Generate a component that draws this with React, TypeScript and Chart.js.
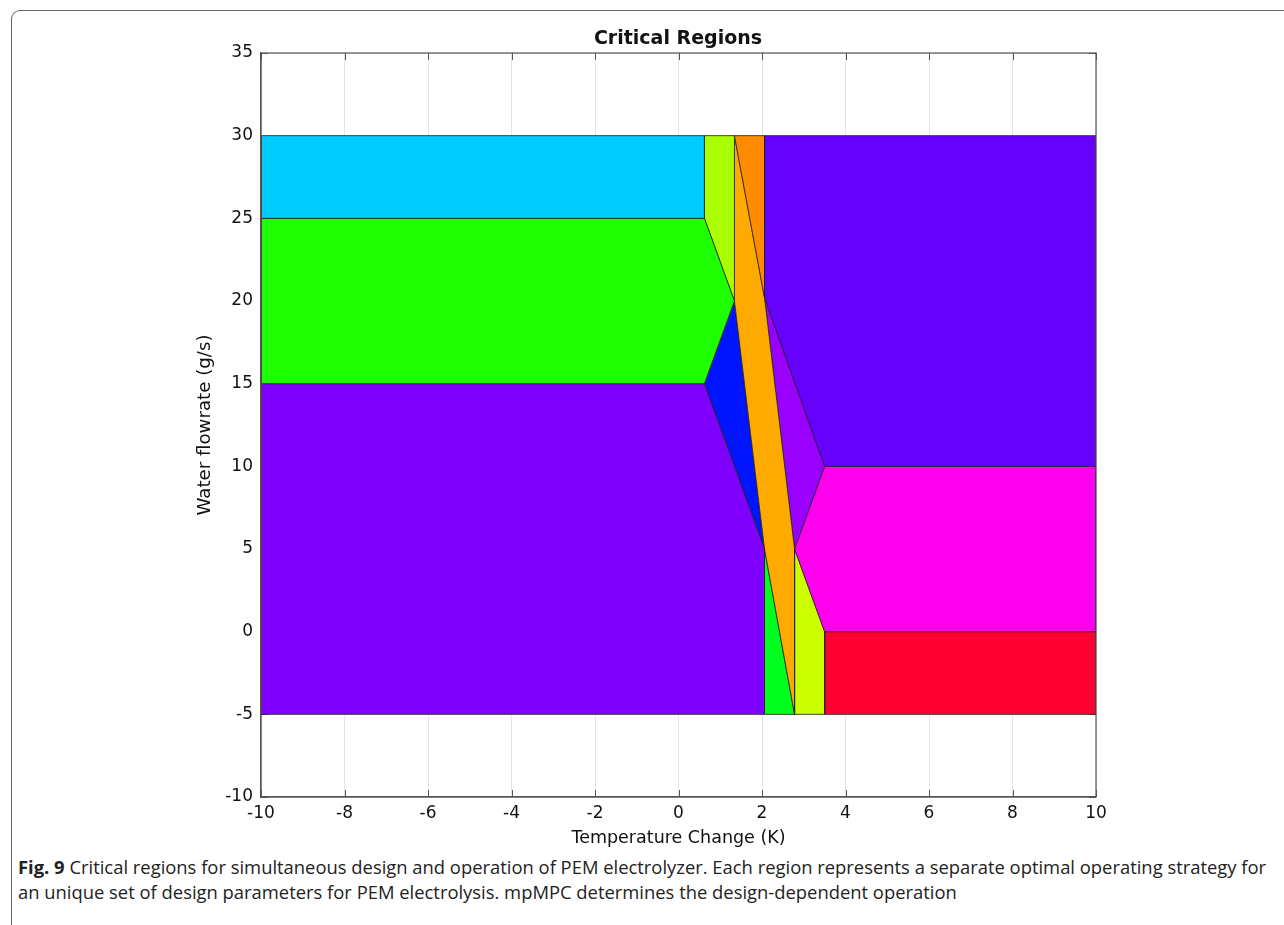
import React, { useEffect, useRef } from "react";
import { Chart, registerables } from "chart.js";

Chart.register(...registerables);

type P = [number, number];

const titleText = "Critical Regions";
const xTitle = "Temperature Change (K)";
const yTitle = "Water flowrate (g/s)";
const xRange = [-10, 10];
const yRange = [-10, 35];
const xStep = 2;
const yStep = 5;

const regionCyan: P[] = [[-10, 25], [0.62, 25], [0.62, 30], [-10, 30]];
const regionGreen: P[] = [[-10, 15], [0.62, 15], [1.34, 20], [0.62, 25], [-10, 25]];
const regionPurpleLow: P[] = [[-10, -5], [2.06, -5], [2.06, 5], [0.62, 15], [-10, 15]];
const regionLimeTop: P[] = [[0.62, 25], [1.34, 20], [1.34, 30], [0.62, 30]];
const regionDarkOrange: P[] = [[1.34, 30], [2.06, 30], [2.06, 20.2]];
const regionOrangeBand: P[] = [[1.34, 30], [2.06, 20.2], [2.78, 5], [2.78, -5], [2.06, 5], [1.34, 20]];
const regionBlue: P[] = [[0.62, 15], [1.34, 20], [2.06, 5]];
const regionGreenTri: P[] = [[2.06, 5], [2.78, -5], [2.06, -5]];
const regionViolet: P[] = [[2.06, 30], [10, 30], [10, 10], [3.5, 10], [2.06, 20.2]];
const regionLilac: P[] = [[2.06, 20.2], [3.5, 10], [2.78, 5]];
const regionMagenta: P[] = [[2.78, 5], [3.5, 10], [10, 10], [10, 0], [3.5, 0]];
const regionLimeLow: P[] = [[2.78, 5], [3.5, 0], [3.5, -5], [2.78, -5]];
const regionRed: P[] = [[3.5, 0], [10, 0], [10, -5], [3.5, -5]];

const regions: P[][] = [
  regionCyan, regionGreen, regionPurpleLow, regionLimeTop, regionDarkOrange,
  regionOrangeBand, regionBlue, regionGreenTri, regionViolet, regionLilac,
  regionMagenta, regionLimeLow, regionRed,
];
const regionColors = [
  "#00CCFF", "#1EFF00", "#7F00FF", "#AAFF00", "#FF8C00",
  "#FFAA00", "#0014FF", "#00FF1E", "#6600FF", "#9900FF",
  "#FF00EE", "#CCFF00", "#FF0033",
];

const chartFont = "'DejaVu Sans', sans-serif";

const boxPlugin = {
  id: "boxPlugin",
  beforeDatasetsDraw(chart: any) {
    const { ctx, chartArea: a, scales } = chart;
    ctx.save();
    ctx.strokeStyle = "#555";
    ctx.lineWidth = 1;
    const xs = scales.x;
    const ys = scales.y;
    xs.ticks.forEach((t: any) => {
      const px = Math.round(xs.getPixelForValue(t.value)) + 0.5;
      ctx.beginPath();
      ctx.moveTo(px, a.bottom);
      ctx.lineTo(px, a.bottom - 7);
      ctx.moveTo(px, a.top);
      ctx.lineTo(px, a.top + 7);
      ctx.stroke();
    });
    ys.ticks.forEach((t: any) => {
      const py = Math.round(ys.getPixelForValue(t.value)) + 0.5;
      ctx.beginPath();
      ctx.moveTo(a.left, py);
      ctx.lineTo(a.left + 7, py);
      ctx.moveTo(a.right, py);
      ctx.lineTo(a.right - 7, py);
      ctx.stroke();
    });
    ctx.restore();
  },
  afterDraw(chart: any) {
    const { ctx, chartArea: a } = chart;
    ctx.save();
    ctx.strokeStyle = "#555";
    ctx.lineWidth = 1.2;
    ctx.strokeRect(a.left, a.top, a.right - a.left, a.bottom - a.top);
    ctx.restore();
  },
};

export default function App() {
  const ref = useRef<HTMLCanvasElement | null>(null);

  useEffect(() => {
    if (!ref.current) return;
    const datasets = regions.map((r, i) => ({
      label: "R" + (i + 1),
      data: [...r, r[0]].map(([x, y]) => ({ x, y })),
      showLine: true,
      fill: "shape" as any,
      backgroundColor: regionColors[i],
      borderColor: "#222",
      borderWidth: 0.8,
      pointRadius: 0,
      tension: 0,
    }));
    const chart = new Chart(ref.current, {
      type: "scatter",
      data: { datasets },
      plugins: [boxPlugin],
      options: {
        animation: false,
        responsive: false,
        maintainAspectRatio: false,
        layout: { padding: { left: 0, right: 188, top: 53, bottom: 0 } },
        plugins: {
          legend: { display: false },
          tooltip: { enabled: false },
          title: { display: false },
        },
        scales: {
          x: {
            type: "linear",
            min: xRange[0],
            max: xRange[1],
            afterFit: (s: any) => { s.height = 53; },
            ticks: { stepSize: xStep, color: "#111", padding: 6, font: { family: chartFont, size: 17 } },
            grid: { color: "#e4e4e4", drawTicks: false },
            border: { color: "#555", width: 1.2 },
            title: {
              display: true,
              text: xTitle,
              color: "#111",
              font: { family: chartFont, size: 17.5 },
              padding: { top: 0, bottom: 1 },
            },
          },
          y: {
            type: "linear",
            min: yRange[0],
            max: yRange[1],
            afterFit: (s: any) => { s.width = 261; },
            ticks: { stepSize: yStep, color: "#111", padding: 8, font: { family: chartFont, size: 17 } },
            grid: { color: "#e4e4e4", drawTicks: false },
            border: { color: "#555", width: 1.2 },
            title: {
              display: true,
              text: yTitle,
              color: "#111",
              font: { family: chartFont, size: 18.2 },
              padding: { top: 194, bottom: 0 },
            },
          },
        },
      },
    });
    return () => chart.destroy();
  }, []);

  return (
    <div style={{ position: "absolute", left: 0, top: 0, width: 1284, height: 925, overflow: "hidden", background: "#fff" }}>
      <div
        style={{
          position: "absolute",
          left: 11,
          top: 10,
          width: 1400,
          height: 1000,
          borderLeft: "1.5px solid #666",
          borderTop: "1.5px solid #666",
          borderTopLeftRadius: 9,
        }}
      />
      <canvas ref={ref} width={1284} height={850} style={{ position: "absolute", left: 0, top: 0, width: 1284, height: 850 }} />
      <div
        style={{
          position: "absolute",
          left: 478,
          width: 400,
          top: 24,
          textAlign: "center",
          fontFamily: chartFont,
          fontWeight: "bold",
          fontSize: 19,
          lineHeight: "26px",
          color: "#111",
        }}
      >
        {titleText}
      </div>
      <div
        style={{
          position: "absolute",
          left: 18,
          top: 854,
          fontFamily: "'Open Sans', 'Noto Sans', sans-serif",
          fontSize: 18.4,
          lineHeight: "25px",
          color: "#222",
          whiteSpace: "nowrap",
        }}
      >
        <b>Fig. 9</b> Critical regions for simultaneous design and operation of PEM electrolyzer. Each region represents a separate optimal operating strategy for
        <br />
        an unique set of design parameters for PEM electrolysis. mpMPC determines the design-dependent operation
      </div>
    </div>
  );
}
